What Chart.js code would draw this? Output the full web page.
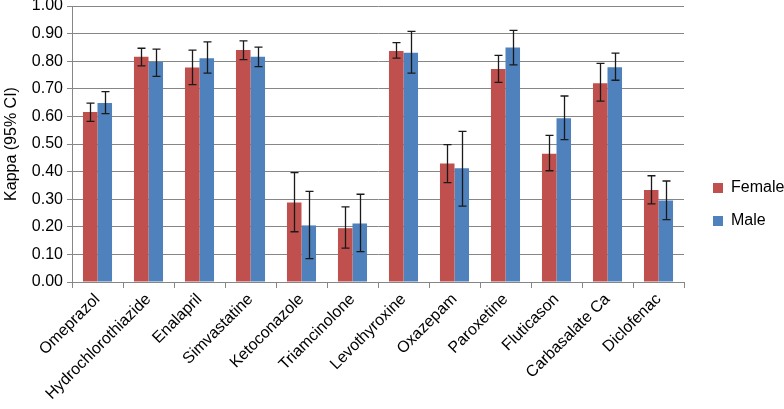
<!DOCTYPE html>
<html>
<head>
<meta charset="utf-8">
<script src="https://cdn.jsdelivr.net/npm/chart.js@4"></script>
<style>
  html, body { margin: 0; padding: 0; background: #fff; }
  #wrap { width: 784px; height: 409px; }
</style>
</head>
<body>
<div id="wrap"><canvas id="kappaChart"></canvas></div>
<script>
// drugs and kappa values
const drugs = ["Omeprazol", "Hydrochlorothiazide", "Enalapril", "Simvastatine", "Ketoconazole",
  "Triamcinolone", "Levothyroxine", "Oxazepam", "Paroxetine", "Fluticason", "Carbasalate Ca", "Diclofenac"];

const female   = [0.616, 0.816, 0.777, 0.841, 0.288, 0.195, 0.837, 0.429, 0.772, 0.465, 0.720, 0.333];
const femaleLo = [0.582, 0.783, 0.715, 0.806, 0.182, 0.123, 0.811, 0.360, 0.723, 0.403, 0.655, 0.283];
const femaleHi = [0.648, 0.847, 0.840, 0.874, 0.396, 0.272, 0.867, 0.498, 0.821, 0.531, 0.792, 0.385];

const male   = [0.649, 0.797, 0.811, 0.816, 0.205, 0.212, 0.831, 0.412, 0.850, 0.593, 0.778, 0.295];
const maleLo = [0.610, 0.745, 0.757, 0.780, 0.085, 0.110, 0.757, 0.275, 0.787, 0.516, 0.731, 0.226];
const maleHi = [0.690, 0.844, 0.870, 0.851, 0.328, 0.318, 0.908, 0.546, 0.912, 0.674, 0.829, 0.366];

const yTicks = [0, 0.1, 0.2, 0.3, 0.4, 0.5, 0.6, 0.7, 0.8, 0.9, 1.0];

const FONT = "'Liberation Sans', Arial, sans-serif";

// whiskers for the 95% CI
const errorBars = {
  id: "errorBars",
  afterDatasetsDraw(chart) {
    const ctx = chart.ctx;
    const y = chart.scales.y;
    chart.data.datasets.forEach((ds, i) => {
      const meta = chart.getDatasetMeta(i);
      meta.data.forEach((bar, j) => {
        const top = y.getPixelForValue(ds.hi[j]);
        const bot = y.getPixelForValue(ds.lo[j]);
        const x = Math.round(bar.x) + 0.5;
        ctx.save();
        ctx.strokeStyle = "#1a1a1a";
        ctx.lineWidth = 1.3;
        ctx.beginPath();
        ctx.moveTo(x, top); ctx.lineTo(x, bot);
        ctx.moveTo(x - 4, top); ctx.lineTo(x + 4, top);
        ctx.moveTo(x - 4, bot); ctx.lineTo(x + 4, bot);
        ctx.stroke();
        ctx.restore();
      });
    });
  }
};

// fixed legend column width so the plot ends where the reference does,
// and nudge the legend items a bit to the right
const legendWidth = {
  id: "legendWidth",
  beforeLayout(chart) {
    const lg = chart.legend;
    if (lg && !lg._wrapped) {
      const fit = lg.fit;
      const draw = lg.draw;
      lg.fit = function () { fit.call(this); this.width = 100; };
      lg.draw = function () {
        this.ctx.save();
        this.ctx.translate(12, 0);
        draw.call(this);
        this.ctx.restore();
      };
      lg._wrapped = true;
    }
  }
};

new Chart(document.getElementById("kappaChart"), {
  type: "bar",
  data: {
    labels: drugs,
    datasets: [
      { label: "Female", data: female, lo: femaleLo, hi: femaleHi, backgroundColor: "#C0504D",
        categoryPercentage: 0.57, barPercentage: 1.0 },
      { label: "Male", data: male, lo: maleLo, hi: maleHi, backgroundColor: "#4F81BD",
        categoryPercentage: 0.57, barPercentage: 1.0 }
    ]
  },
  options: {
    responsive: true,
    maintainAspectRatio: false,
    animation: false,
    layout: { padding: 0 },
    plugins: {
      legend: {
        position: "right",
        align: "center",
        labels: { boxWidth: 10, boxHeight: 10, padding: 17, color: "#000",
          font: { family: FONT, size: 16 } }
      },
      tooltip: { enabled: false }
    },
    scales: {
      x: {
        afterFit: (s) => { s.height = 127; },
        grid: { offset: true, drawOnChartArea: false, color: "#868686", tickLength: 6 },
        border: { color: "#868686" },
        ticks: { minRotation: 45, maxRotation: 45, color: "#000", padding: 2,
          font: { family: FONT, size: 16 } }
      },
      y: {
        min: 0, max: 1,
        afterFit: (s) => { s.width = 72; s.paddingTop = 6; },
        afterBuildTicks: (axis) => { axis.ticks = yTicks.map(v => ({ value: v })); },
        grid: { color: "#868686", tickLength: 5 },
        border: { color: "#868686" },
        ticks: { color: "#000", padding: 4, font: { family: FONT, size: 16 },
          callback: (v) => Number(v).toFixed(2) },
        title: { display: true, text: "Kappa (95% CI)", color: "#000", padding: 2,
          font: { family: FONT, size: 16 } }
      }
    }
  },
  plugins: [errorBars, legendWidth]
});
</script>
</body>
</html>
